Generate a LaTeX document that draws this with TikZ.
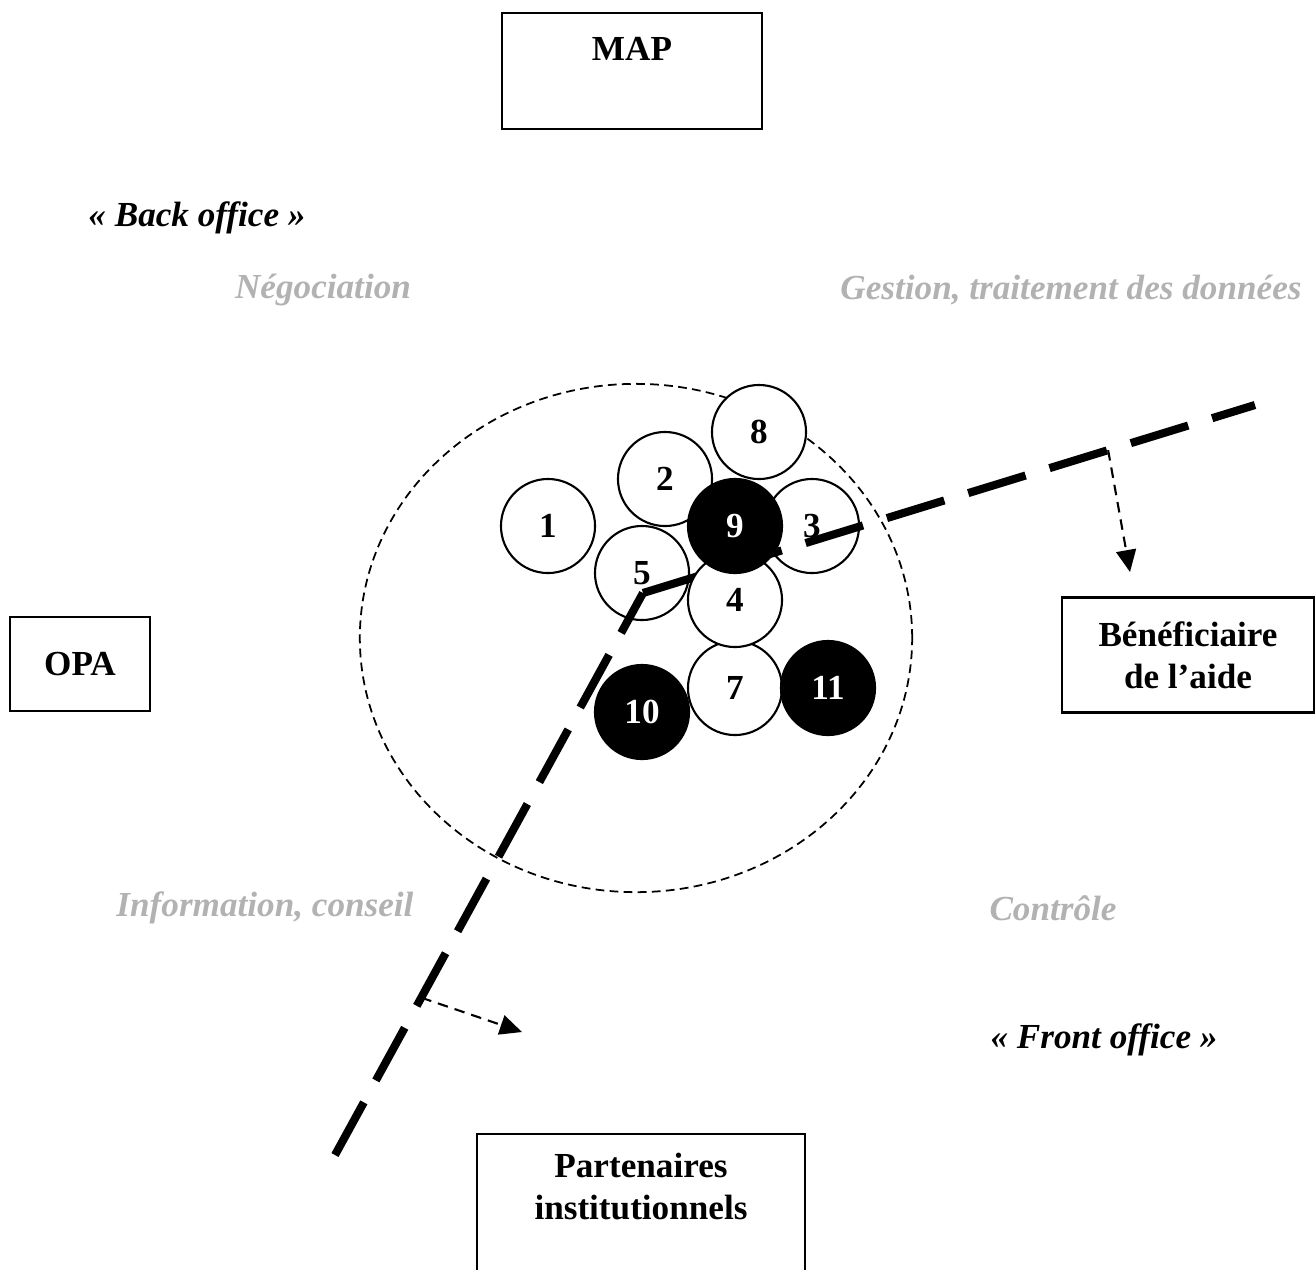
\documentclass[tikz,border=0pt]{standalone}
\usepackage{fontspec}
\setmainfont{Liberation Serif}
\usetikzlibrary{arrows.meta, positioning, calc}

\tikzset{
  cadre/.style={draw, line width=0.6pt, font=\bfseries, align=center, inner sep=0pt},
  pastille/.style={circle, draw, fill=white, line width=0.6pt, minimum size=0.94cm, inner sep=0pt, font=\bfseries},
  pastillenoire/.style={pastille, fill=black, text=white},
  domaine/.style={font=\bfseries\itshape, text=gray!60},
  office/.style={font=\bfseries\itshape},
  frontiere/.style={line width=2.3pt, dash pattern=on 0.6cm off 0.25cm},
  renvoi/.style={line width=0.6pt, dash pattern=on 3pt off 2pt, -{Triangle[length=0.22cm, width=0.2cm]}}
}

\begin{document}
\begin{tikzpicture}[x=0.01cm, y=-0.01cm, font=\fontsize{11}{13}\selectfont]
  \clip (0,0) rectangle (1315,1269);

  % Acteurs
  \node[cadre, anchor=north, minimum width=2.6cm, inner ysep=0.21cm, text height=0.26cm, text depth=0.48cm] (map) at (632,12) {MAP};
  \node[cadre, minimum width=1.4cm, minimum height=0.94cm] (opa) at (80,664) {OPA};
  \node[cadre, minimum width=2.51cm, minimum height=1.15cm] (benef) at (1188,655) {Bénéficiaire\\de l’aide};
  \node[cadre, anchor=north, minimum width=3.27cm, inner ysep=0.19cm, text depth=1.4cm] (parten) at (641,1133) {Partenaires\\institutionnels};

  % Back office / front office
  \node[office] (back) at (197,218) {«~Back office~»};
  \node[office] (front) at (1104,1040) {«~Front office~»};
  \node[domaine] (nego) at (323,290) {Négociation};
  \node[domaine] (gestion) at (1071,290) {Gestion, traitement des données};
  \node[domaine] (info) at (265,908) {Information, conseil};
  \node[domaine] (controle) at (1053,908) {Contrôle};

  % Périmètre
  \draw[line width=0.5pt, dash pattern=on 2.5pt off 1.5pt] (636,638) ellipse [x radius=2.76cm, y radius=2.54cm];

  % Pastilles
  \node[pastille] (p1) at (548,526) {1};
  \node[pastille] (p2) at (665,479) {2};
  \node[pastille] (p3) at (812,526) {3};
  \node[pastille] (p5) at (642,573) {5};
  \node[pastille] (p8) at (759,432) {8};
  \node[pastille] (p7) at (735,688) {7};

  % Frontière
  \coordinate (bas) at (335,1155);
  \coordinate (coude) at (643,593);
  \coordinate (haut) at (1255,405);
  \draw[frontiere] (bas) -- (coude);
  \draw[frontiere] (coude) -- (haut);

  \node[pastille] (p4) at (735,600) {4};
  \node[pastillenoire] (p9) at (735,526) {9};
  \node[pastillenoire] (p10) at (642,712) {10};
  \node[pastillenoire] (p11) at (828,688) {11};

  % Renvois
  \coordinate (versbenef) at (1130,572);
  \coordinate (versparten) at (522,1032);
  \draw[renvoi] ($(coude)!0.76!(haut)$) -- (versbenef);
  \draw[renvoi] ($(bas)!0.28!(coude)$) -- (versparten);
\end{tikzpicture}
\end{document}
